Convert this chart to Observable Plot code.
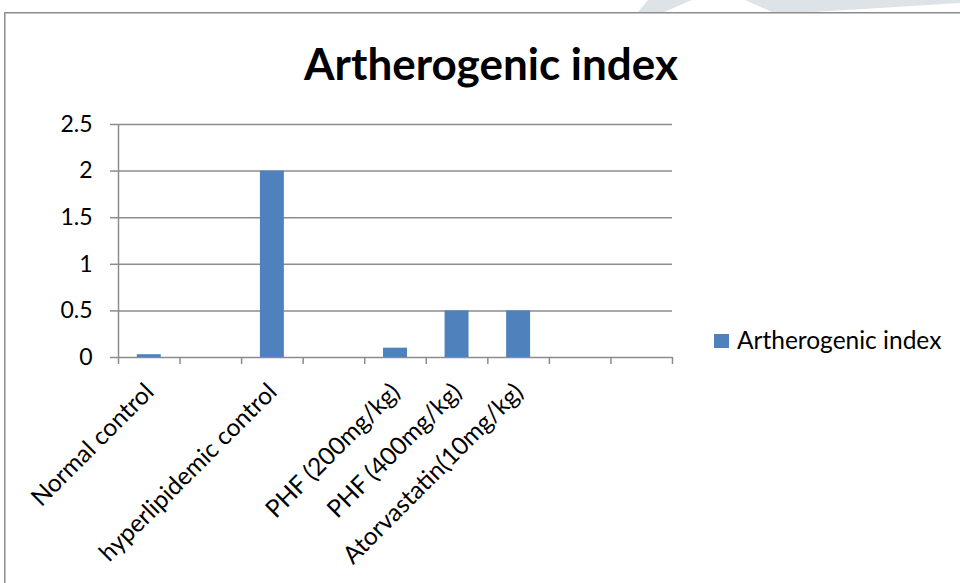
<!DOCTYPE html>
<html>
<head>
<meta charset="utf-8">
<script src="https://cdn.jsdelivr.net/npm/d3@7"></script>
<script src="https://cdn.jsdelivr.net/npm/@observablehq/plot@0.6"></script>
<style>
  html, body { margin: 0; padding: 0; background: #fff; }
  #page { position: relative; width: 960px; height: 583px; overflow: hidden; }
  #page svg { position: absolute; left: 0; top: 0; }
</style>
</head>
<body>
<div id="page"></div>
<script>
// Treatment groups, one per category slot (blank slots have no bar or label)
const groups = [
  "Normal control",
  "",
  "hyperlipidemic control",
  "",
  "PHF (200mg/kg)",
  "PHF (400mg/kg)",
  "Atorvastatin(10mg/kg)",
  "",
  ""
];
// Artherogenic index per slot
const values = [0.03, null, 2.0, null, 0.1, 0.5, 0.5, null, null];
// Value-axis ticks
const yTicks = [0, 0.5, 1, 1.5, 2, 2.5];

const seriesName = "Artherogenic index";
const chartTitle = "Artherogenic index";

const barColor = "#4f81bd";
const lineColor = "#8c8c8c";
const font = "Lato, 'Open Sans', sans-serif";

const rows = groups.map((group, slot) => ({slot, group, value: values[slot]}));
const barRows = rows.filter(d => d.value != null);
const labelRows = rows.filter(d => d.group !== "");
const slotEdges = d3.range(groups.length + 1);

const chart = Plot.plot({
  width: 960,
  height: 583,
  marginLeft: 118,
  marginRight: 288,
  marginTop: 124,
  marginBottom: 226,
  style: {fontFamily: font, background: "transparent", color: "black"},
  x: {type: "linear", domain: [0, groups.length], axis: null},
  y: {domain: [0, 2.5], axis: null},
  marks: [
    // horizontal gridlines
    Plot.ruleY(yTicks, {stroke: lineColor, strokeWidth: 1.5}),
    // value axis line
    Plot.ruleX([0], {stroke: lineColor, strokeWidth: 1.5}),
    // value axis ticks and labels
    Plot.axisY({
      ticks: yTicks, tickSize: 8, tickPadding: 18, label: null,
      tickFormat: d => String(d),
      stroke: lineColor, strokeWidth: 1.5, color: "black",
      fontSize: 23, fontFamily: font
    }),
    // category axis ticks between slots
    Plot.axisX({
      ticks: slotEdges, tickSize: 7, tickFormat: () => "", label: null,
      stroke: lineColor, strokeWidth: 1.5
    }),
    // bars
    Plot.rectY(barRows, {
      x1: d => d.slot, x2: d => d.slot + 1, y: "value",
      fill: barColor, insetLeft: 18.8, insetRight: 18.8
    }),
    // rotated category labels
    Plot.text(labelRows, {
      x: d => d.slot + 0.5, text: "group",
      frameAnchor: "bottom", rotate: -45, textAnchor: "end",
      dx: 6, dy: 36, fontSize: 24.5, fill: "black", fontFamily: font
    })
  ]
});

const svg = d3.select(chart);

// faint page decoration above the chart frame
svg.insert("path", ":first-child")
  .attr("d", "M648,0 L692,0 L664,12 L638,12 Z M745,0 L772,12 L812,12 Q880,8 960,3 L960,0 Z")
  .attr("fill", "#dde3e6");

// chart frame
svg.append("rect")
  .attr("x", 4.75).attr("y", 12.75)
  .attr("width", 1000).attr("height", 700)
  .attr("fill", "none").attr("stroke", lineColor).attr("stroke-width", 1.5);

// title
svg.append("text")
  .attr("x", 491).attr("y", 80)
  .attr("text-anchor", "middle")
  .attr("font-family", font).attr("font-weight", 700).attr("font-size", 44)
  .attr("fill", "black")
  .text(chartTitle);

// legend
const legend = svg.append("g");
legend.append("rect")
  .attr("x", 714).attr("y", 334).attr("width", 15).attr("height", 14)
  .attr("fill", barColor);
legend.append("text")
  .attr("x", 737).attr("y", 349)
  .attr("text-anchor", "start")
  .attr("font-family", font).attr("font-size", 24.5)
  .attr("fill", "black")
  .text(seriesName);

document.getElementById("page").appendChild(chart);
</script>
</body>
</html>
